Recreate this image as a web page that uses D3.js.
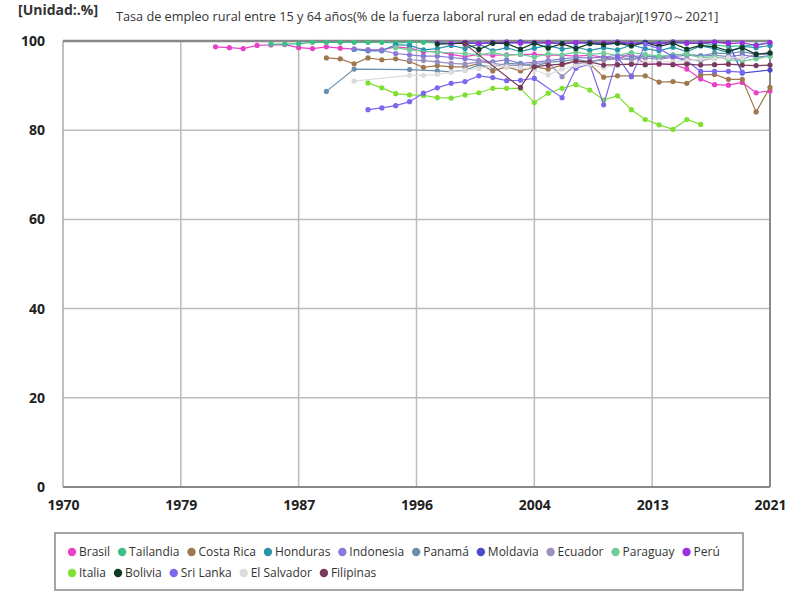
<!DOCTYPE html>
<html>
<head>
<meta charset="utf-8">
<script src="https://cdn.jsdelivr.net/npm/d3@7"></script>
<style>
  body { margin: 0; background: #fff; font-family: "Open Sans", "Noto Sans", sans-serif; }
  svg text { font-family: "Open Sans", "Noto Sans", sans-serif; }
</style>
</head>
<body>
<svg id="chart" width="800" height="600"></svg>
<script>
// --- data: [year, value] pairs ---
const brasil = [[1981,98.7],[1982,98.5],[1983,98.3],[1984,99.0],[1985,99.1],[1986,99.2],[1987,98.5],[1988,98.3],[1989,98.7],[1990,98.4],[1991,98.2],[1992,98.0],[1993,98.0],[1994,98.7],[1995,98.4],[1996,97.6],[1997,97.6],[1998,97.0],[1999,96.5],[2000,97.0],[2001,96.8],[2002,96.9],[2003,97.0],[2004,97.0],[2005,96.8],[2006,96.8],[2007,96.6],[2008,96.8],[2009,96.4],[2010,96.0],[2011,97.2],[2012,94.8],[2013,94.8],[2014,94.8],[2015,93.7],[2016,91.5],[2017,90.2],[2018,90.1],[2019,90.7],[2020,88.4],[2021,88.8]];
const tailandia = [[1985,99.3],[1986,99.3],[1987,99.4],[1988,99.7],[1989,99.7],[1990,99.7],[1991,99.7],[1992,99.7],[1993,99.7],[1994,99.6],[1995,99.7],[1996,99.7],[1997,99.6],[1998,99.5],[1999,99.6],[2000,99.6],[2001,99.5],[2002,99.6],[2003,99.6],[2004,99.6],[2005,99.5],[2006,99.6],[2007,99.5],[2008,99.6],[2009,99.5],[2010,99.6],[2011,99.6],[2012,99.7],[2013,99.6],[2014,99.6],[2015,99.5],[2016,99.6],[2017,99.1],[2018,98.8],[2019,98.9],[2020,99.2],[2021,99.5]];
const costaRica = [[1989,96.2],[1990,96.0],[1991,94.9],[1992,96.2],[1993,95.8],[1994,96.0],[1995,95.4],[1996,94.1],[1997,94.5],[1998,94.2],[1999,94.2],[2000,94.9],[2001,93.3],[2002,94.2],[2003,93.3],[2004,94.2],[2005,93.7],[2006,94.6],[2007,95.5],[2008,94.9],[2009,91.9],[2010,92.2],[2011,92.2],[2012,92.2],[2013,90.8],[2014,90.9],[2015,90.5],[2016,92.4],[2017,92.5],[2018,91.4],[2019,91.4],[2020,84.1],[2021,89.6]];
const honduras = [[1991,98.1],[1992,97.8],[1993,97.8],[1994,99.2],[1995,99.0],[1996,98.0],[1997,98.3],[1998,99.0],[1999,98.3],[2000,99.3],[2001,97.8],[2002,98.5],[2003,97.6],[2004,98.4],[2005,99.0],[2006,98.2],[2007,98.6],[2008,97.9],[2009,98.5],[2010,98.0],[2011,99.1],[2012,98.3],[2013,97.8],[2014,98.6],[2015,97.6],[2016,98.9],[2017,98.3],[2018,97.4],[2019,98.8],[2020,98.5],[2021,99.0]];
const indonesia = [[1991,98.2],[1992,98.0],[1993,97.9],[1994,97.2],[1995,96.9],[1996,96.6],[1997,96.6],[1998,96.3],[1999,96.0],[2000,95.6],[2001,95.3],[2002,95.8],[2003,95.0],[2004,95.2],[2005,95.6],[2006,96.0],[2007,96.3],[2008,96.2],[2009,96.4],[2010,96.8],[2011,96.5],[2012,96.7],[2013,96.2],[2014,96.5],[2015,96.8],[2016,96.6],[2017,96.8],[2018,96.5],[2019,96.9],[2020,96.4],[2021,96.7]];
const panama = [[1989,88.7],[1991,93.7],[1995,93.6],[1997,93.3],[1998,93.1],[1999,93.5],[2000,94.6],[2001,94.2],[2002,95.0],[2003,94.8],[2004,94.3],[2005,95.2],[2006,95.5],[2007,95.9],[2008,95.4],[2009,96.0],[2010,96.3],[2011,96.0],[2012,96.6],[2013,96.4],[2014,96.9],[2015,97.0],[2016,96.7],[2017,97.3],[2018,97.2],[2019,97.6],[2020,97.0],[2021,97.4]];
const moldavia = [[1999,99.6],[2000,99.4],[2001,99.7],[2002,99.5],[2003,99.8],[2004,99.6],[2005,99.7],[2006,99.4],[2007,99.6],[2008,99.7],[2009,99.5],[2010,99.6],[2011,99.3],[2012,99.7],[2013,99.5],[2014,99.8],[2015,99.6],[2016,99.4],[2017,99.7],[2018,99.6],[2019,92.8],[2021,93.5]];
const ecuador = [[1995,95.8],[1996,95.6],[1997,95.3],[1998,95.0],[1999,94.8],[2000,95.3],[2001,95.0],[2002,94.6],[2003,94.5],[2004,94.9],[2005,95.2],[2006,92.0],[2007,94.8],[2008,95.4],[2009,95.7],[2010,96.0],[2011,95.8],[2012,96.2],[2013,95.9],[2014,96.3],[2015,96.0],[2016,95.6],[2017,96.1],[2018,96.2],[2019,95.8],[2020,97.2],[2021,97.0]];
const paraguay = [[1994,98.5],[1995,98.0],[1997,97.5],[1999,97.2],[2000,96.9],[2001,97.4],[2002,96.8],[2003,97.0],[2004,96.4],[2005,97.1],[2006,96.9],[2007,97.5],[2008,97.0],[2009,97.3],[2010,96.8],[2011,97.4],[2012,97.0],[2013,96.6],[2014,96.8],[2015,97.1],[2016,96.2],[2017,96.5],[2018,95.8],[2019,95.5],[2020,96.0],[2021,96.6]];
const peru = [[1997,99.6],[1998,99.5],[1999,99.7],[2000,99.4],[2001,99.6],[2002,99.8],[2003,99.5],[2004,99.7],[2005,99.6],[2006,99.4],[2007,99.7],[2008,99.5],[2009,99.6],[2010,99.8],[2011,99.5],[2012,99.6],[2013,99.3],[2014,99.7],[2015,99.5],[2016,99.6],[2017,99.8],[2018,99.4],[2019,99.6],[2020,99.0],[2021,99.7]];
const italia = [[1992,90.6],[1993,89.5],[1994,88.2],[1995,87.9],[1996,87.8],[1997,87.3],[1998,87.2],[1999,87.9],[2000,88.4],[2001,89.4],[2002,89.4],[2003,89.4],[2004,86.2],[2005,88.3],[2006,89.4],[2007,90.2],[2008,89.0],[2009,86.8],[2010,87.7],[2011,84.6],[2012,82.4],[2013,81.2],[2014,80.2],[2015,82.4],[2016,81.3]];
const bolivia = [[1997,99.3],[1999,99.5],[2000,98.1],[2001,99.5],[2002,99.4],[2003,98.2],[2004,99.5],[2005,98.4],[2006,99.4],[2007,98.3],[2008,99.4],[2009,99.2],[2010,99.5],[2011,98.9],[2012,99.6],[2013,98.8],[2014,99.5],[2015,98.2],[2016,99.0],[2017,98.7],[2018,97.8],[2019,98.5],[2020,97.0],[2021,97.3]];
const sriLanka = [[1992,84.6],[1993,85.0],[1994,85.5],[1995,86.4],[1996,88.3],[1997,89.5],[1998,90.5],[1999,90.9],[2000,92.2],[2001,91.8],[2002,91.1],[2003,91.2],[2004,91.6],[2006,87.3],[2007,93.9],[2008,94.8],[2009,85.7],[2010,96.5],[2011,92.0],[2012,99.3],[2013,98.3],[2014,96.5],[2015,95.5],[2016,93.2],[2017,93.2],[2018,93.2],[2019,93.0]];
const elSalvador = [[1991,91.0],[1995,92.3],[1996,92.3],[1997,92.5],[1998,93.0],[1999,93.5],[2000,93.8],[2001,94.5],[2002,94.2],[2003,94.0],[2004,93.5],[2005,92.4],[2006,93.7],[2007,94.5],[2008,94.8],[2009,94.0],[2010,94.5],[2011,95.0],[2012,95.2],[2013,95.4],[2014,95.3],[2015,95.6],[2016,96.0],[2017,96.0],[2018,96.3],[2019,96.2]];
const filipinas = [[1999,99.3],[2003,89.6],[2004,94.2],[2005,94.6],[2006,94.8],[2007,95.5],[2008,95.3],[2009,94.6],[2010,94.7],[2011,94.8],[2012,94.7],[2013,94.9],[2014,94.7],[2015,94.8],[2016,94.6],[2017,94.7],[2018,94.8],[2019,94.6],[2020,94.5],[2021,94.6]];

const seriesNames = ["Brasil","Tailandia","Costa Rica","Honduras","Indonesia","Panamá","Moldavia","Ecuador","Paraguay","Perú","Italia","Bolivia","Sri Lanka","El Salvador","Filipinas"];
const seriesValues = [brasil, tailandia, costaRica, honduras, indonesia, panama, moldavia, ecuador, paraguay, peru, italia, bolivia, sriLanka, elSalvador, filipinas];
const seriesColors = ["#e840c8","#3cbf85","#a07850","#2a95aa","#8a7ad8","#6a90b0","#4b4bc8","#9a90c0","#70cc98","#9b30e0","#7ee030","#123a28","#7b68ee","#dcdcdc","#7a3a5e"];

const xTickValues = [1970, 1978.5, 1987, 1995.5, 2004, 2012.5, 2021];
const xTickLabels = ["1970","1979","1987","1996","2004","2013","2021"];
const yTickValues = [0, 20, 40, 60, 80, 100];

// --- layout ---
const M = {left: 63, right: 770, top: 41, bottom: 487};
const svg = d3.select("#chart");

const x = d3.scaleLinear().domain([1970, 2021]).range([M.left, M.right]);
const y = d3.scaleLinear().domain([0, 100]).range([M.bottom, M.top]);

// header
svg.append("text").attr("x", 18).attr("y", 15)
   .attr("font-size", 14).attr("font-weight", "bold").attr("fill", "#333")
   .text("[Unidad:.%]");
svg.append("text").attr("x", 116).attr("y", 21)
   .attr("font-size", 12.7).attr("fill", "#333")
   .text("Tasa de empleo rural entre 15 y 64 años(% de la fuerza laboral rural en edad de trabajar)[1970～2021]");

// grid
const grid = svg.append("g");
grid.selectAll(".gx").data(xTickValues.slice(1, -1)).join("line")
    .attr("x1", d => x(d)).attr("x2", d => x(d))
    .attr("y1", M.top).attr("y2", M.bottom)
    .attr("stroke", "#bbb").attr("stroke-width", 1.5);
grid.selectAll(".gy").data(yTickValues.slice(1, -1)).join("line")
    .attr("x1", M.left).attr("x2", M.right)
    .attr("y1", d => y(d)).attr("y2", d => y(d))
    .attr("stroke", "#bbb").attr("stroke-width", 1.5);

// frame
svg.append("line").attr("x1", M.left).attr("x2", M.left).attr("y1", M.top).attr("y2", M.bottom)
   .attr("stroke", "#aaa").attr("stroke-width", 1.5);
svg.append("line").attr("x1", M.right).attr("x2", M.right).attr("y1", M.top).attr("y2", M.bottom)
   .attr("stroke", "#888").attr("stroke-width", 2);
svg.append("line").attr("x1", M.left).attr("x2", M.right).attr("y1", M.top).attr("y2", M.top)
   .attr("stroke", "#888").attr("stroke-width", 2.5);
svg.append("line").attr("x1", M.left).attr("x2", M.right).attr("y1", M.bottom).attr("y2", M.bottom)
   .attr("stroke", "#888").attr("stroke-width", 2);

// axes labels
const xAxis = svg.append("g").attr("transform", `translate(0,${M.bottom})`)
    .call(d3.axisBottom(x).tickValues(xTickValues).tickSize(0).tickPadding(13)
          .tickFormat((d, i) => xTickLabels[i]));
xAxis.select(".domain").remove();
xAxis.selectAll("text").attr("font-size", 14).attr("font-weight", "bold").attr("fill", "#222")
     .style("font-family", "'Open Sans', sans-serif");

const yAxis = svg.append("g").attr("transform", `translate(${M.left},0)`)
    .call(d3.axisLeft(y).tickValues(yTickValues).tickSize(0).tickPadding(18));
yAxis.select(".domain").remove();
yAxis.selectAll("text").attr("font-size", 14).attr("font-weight", "bold").attr("fill", "#222")
     .style("font-family", "'Open Sans', sans-serif");

// series
const line = d3.line().x(d => x(d[0])).y(d => y(d[1]));
const plot = svg.append("g");
seriesValues.forEach((vals, i) => {
    const g = plot.append("g");
    g.append("path").datum(vals).attr("d", line)
     .attr("fill", "none").attr("stroke", seriesColors[i]).attr("stroke-width", 1.2);
    g.selectAll("circle").data(vals).join("circle")
     .attr("cx", d => x(d[0])).attr("cy", d => y(d[1])).attr("r", 2.6)
     .attr("fill", seriesColors[i]);
});

// legend
const legend = svg.append("g");
legend.append("rect").attr("x", 55).attr("y", 533).attr("width", 688).attr("height", 57)
      .attr("fill", "#fff").attr("stroke", "#888").attr("stroke-width", 1.5);
const rows = [seriesNames.slice(0, 10), seriesNames.slice(10)];
rows.forEach((names, r) => {
    let cx = 72;
    const cy = 552 + r * 21;
    names.forEach(name => {
        const i = seriesNames.indexOf(name);
        legend.append("circle").attr("cx", cx).attr("cy", cy).attr("r", 4.2).attr("fill", seriesColors[i]);
        const t = legend.append("text").attr("x", cx + 7).attr("y", cy + 4.3)
            .attr("font-size", 12).attr("fill", "#333").text(name);
        cx += 7 + t.node().getComputedTextLength() + 12;
    });
});
</script>
</body>
</html>
